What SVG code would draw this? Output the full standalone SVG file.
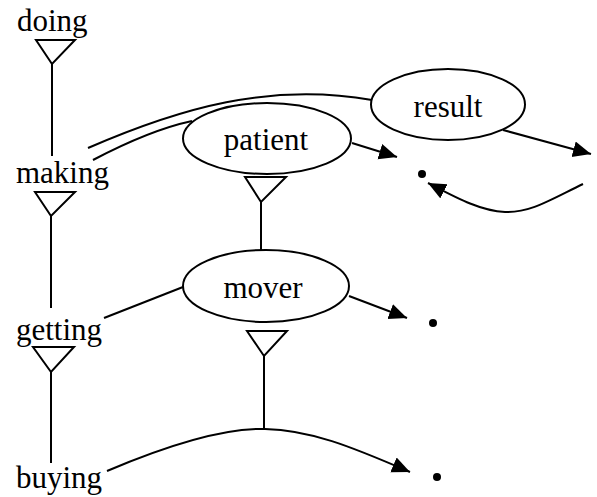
<svg xmlns="http://www.w3.org/2000/svg" width="597" height="497" viewBox="0 0 597 497">
  <style>
    text { font-family: "Liberation Serif", "Times New Roman", serif; font-size: 31px; fill: #000; }
    .ln { fill: none; stroke: #000; stroke-width: 2; }
    .tri { fill: #fff; stroke: #000; stroke-width: 2; stroke-linejoin: miter; }
    .ell { fill: #fff; stroke: #000; stroke-width: 2; }
  </style>
  <defs>
    <marker id="arr" markerUnits="userSpaceOnUse" markerWidth="22" markerHeight="18" refX="18" refY="8" orient="auto">
      <path d="M0,0 L18,8 L0,16 Z" fill="#000"/>
    </marker>
  </defs>
  <rect width="597" height="497" fill="#fff"/>

  <g id="connectors">
    <!-- isa links -->
    <path class="ln" d="M52,64 L52,156"/>
    <path class="ln" d="M51,216 L51,308"/>
    <path class="ln" d="M51,372 L51,463"/>
    <path class="ln" d="M261,202 L261,250"/>
    <path class="ln" d="M264,356 L264,429"/>
    <!-- role links -->
    <path class="ln" d="M88,148 C180,108 270,82 372,100"/>
    <path class="ln" d="M93,160 Q150,130 192,121"/>
    <path class="ln" d="M104,318 L183,287"/>
    <path class="ln" d="M107,471 C180,440 230,428 265,429 C310,430 350,446 410,472" marker-end="url(#arr)"/>
    <path class="ln" d="M352,143 L397,157" marker-end="url(#arr)"/>
    <path class="ln" d="M503,130 L591,154" marker-end="url(#arr)"/>
    <path class="ln" d="M349,296 L407,318" marker-end="url(#arr)"/>
    <path class="ln" d="M583,184 C550,200 530,213 505,212 C480,211 455,197 428,183" marker-end="url(#arr)"/>
  </g>

  <g id="doing">
    <text x="17" y="31">doing</text>
    <path class="tri" d="M36,40 L75,40 L52,64 Z"/>
  </g>
  <g id="making">
    <text x="16" y="183">making</text>
    <path class="tri" d="M35,192 L75,192 L51,216 Z"/>
  </g>
  <g id="getting">
    <text x="16" y="340">getting</text>
    <path class="tri" d="M33,347 L74,347 L51,372 Z"/>
  </g>
  <g id="buying">
    <text x="16" y="488">buying</text>
  </g>
  <g id="result">
    <ellipse class="ell" cx="448" cy="104.5" rx="77" ry="35.5"/>
    <text x="448" y="117" text-anchor="middle">result</text>
  </g>
  <g id="patient">
    <ellipse class="ell" cx="267" cy="138.5" rx="84" ry="35.5"/>
    <text x="266" y="150" text-anchor="middle">patient</text>
    <path class="tri" d="M245,177 L286,177 L261,202 Z"/>
  </g>
  <g id="mover">
    <ellipse class="ell" cx="266" cy="286" rx="83" ry="36"/>
    <text x="263" y="298" text-anchor="middle">mover</text>
    <path class="tri" d="M247,331 L287,331 L264,356 Z"/>
  </g>
  <g id="dots">
    <circle cx="422" cy="174" r="4"/>
    <circle cx="433" cy="323" r="4"/>
    <circle cx="437" cy="477" r="4"/>
  </g>
</svg>
